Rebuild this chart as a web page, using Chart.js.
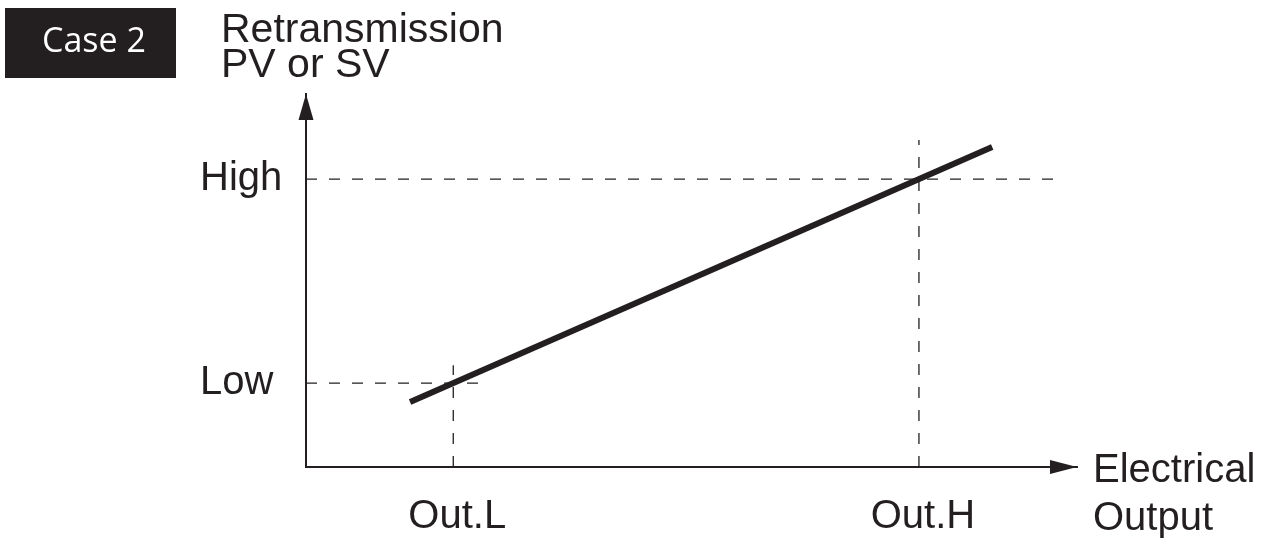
<!DOCTYPE html>
<html>
<head>
<meta charset="utf-8">
<script src="https://cdn.jsdelivr.net/npm/chart.js@4"></script>
<style>
  body { margin: 0; background: #fff; }
  #wrap { width: 1268px; height: 540px; }
</style>
</head>
<body>
<div id="wrap"><canvas id="retrans-chart" width="1268" height="540"></canvas></div>
<script>
const ctx = document.getElementById("retrans-chart");

// axis values (arbitrary units, 0..10 on both axes)
var xTickValues = [1.91, 7.95];
var xTickLabels = ["Out.L", "Out.H"];
var yTickValues = [2.25, 7.72];
var yTickLabels = ["Low", "High"];

// retransmission line
var lineX = [1.35, 8.9];
var lineY = [1.74, 8.58];

// dashed guide lines
var highGuideX = [0, 9.8];
var highGuideY = [7.72, 7.72];
var lowGuideX = [0, 2.35];
var lowGuideY = [2.25, 2.25];
var outLGuideX = [1.91, 1.91];
var outLGuideY = [0, 2.73];
var outHGuideX = [7.95, 7.95];
var outHGuideY = [0, 8.77];

var ink = "#231f20";
var font = "'Liberation Sans', Arial, sans-serif";

function pts(xs, ys) {
  return xs.map(function (x, i) { return { x: x, y: ys[i] }; });
}

function guide(xs, ys) {
  return {
    data: pts(xs, ys),
    borderColor: ink,
    borderWidth: 1.3,
    borderDash: [11, 12],
    pointRadius: 0,
    fill: false,
    order: 2,
  };
}

const decorations = {
  id: "decorations",
  afterDraw(chart) {
    const c = chart.ctx;
    const x = chart.scales.x;
    const y = chart.scales.y;
    const ox = x.left, oy = y.bottom;
    c.save();
    c.fillStyle = ink;
    // y arrow
    c.beginPath();
    c.moveTo(ox, y.top);
    c.lineTo(ox - 7.5, y.top + 26);
    c.lineTo(ox + 7.5, y.top + 26);
    c.closePath();
    c.fill();
    // x arrow
    c.beginPath();
    c.moveTo(x.right, oy);
    c.lineTo(x.right - 27, oy - 7);
    c.lineTo(x.right - 27, oy + 7);
    c.closePath();
    c.fill();

    // axis titles
    c.font = "41px " + font;
    c.textBaseline = "alphabetic";
    c.textAlign = "left";
    c.fillText("Retransmission", 221, 42);
    c.fillText("PV or SV", 221, 77);
    c.font = "40px " + font;
    c.fillText("Electrical", 1093, 482);
    c.fillText("Output", 1093, 530);

    // case badge
    c.fillRect(5, 8, 171, 70);
    c.fillStyle = "#fff";
    c.font = "34px 'Open Sans', Lato, sans-serif";
    c.textAlign = "center";
    c.textBaseline = "middle";
    c.fillText("Case 2", 94, 42);
    c.restore();
  },
};

const myChart = new Chart(ctx, {
  type: "line",
  data: {
    datasets: [
      {
        data: pts(lineX, lineY),
        borderColor: ink,
        borderWidth: 6,
        borderCapStyle: "butt",
        pointRadius: 0,
        fill: false,
        order: 1,
      },
      guide(highGuideX, highGuideY),
      guide(lowGuideX, lowGuideY),
      guide(outLGuideX, outLGuideY),
      guide(outHGuideX, outHGuideY),
    ],
  },
  options: {
    responsive: false,
    animation: false,
    devicePixelRatio: 1,
    layout: {
      padding: { left: 200, right: 191, top: 94, bottom: 0 },
    },
    plugins: {
      legend: { display: false },
      tooltip: { enabled: false },
    },
    scales: {
      x: {
        type: "linear",
        min: 0,
        max: 10,
        grid: { display: false, drawTicks: false },
        border: { display: true, color: ink, width: 2 },
        afterBuildTicks: function (scale) {
          scale.ticks = xTickValues.map(function (v) { return { value: v }; });
        },
        afterFit: function (scale) { scale.height = 73; },
        ticks: {
          autoSkip: false,
          maxRotation: 0,
          padding: 26,
          labelOffset: 4,
          color: ink,
          font: { size: 40, family: font },
          callback: function (v, i) { return xTickLabels[i]; },
        },
      },
      y: {
        type: "linear",
        min: 0,
        max: 10,
        grid: { display: false, drawTicks: false },
        border: { display: true, color: ink, width: 2 },
        afterBuildTicks: function (scale) {
          scale.ticks = yTickValues.map(function (v) { return { value: v }; });
        },
        afterFit: function (scale) { scale.width = 106; },
        ticks: {
          autoSkip: false,
          crossAlign: "far",
          color: ink,
          font: { size: 40, family: font },
          callback: function (v, i) { return yTickLabels[i]; },
        },
      },
    },
  },
  plugins: [decorations],
});
</script>
</body>
</html>
